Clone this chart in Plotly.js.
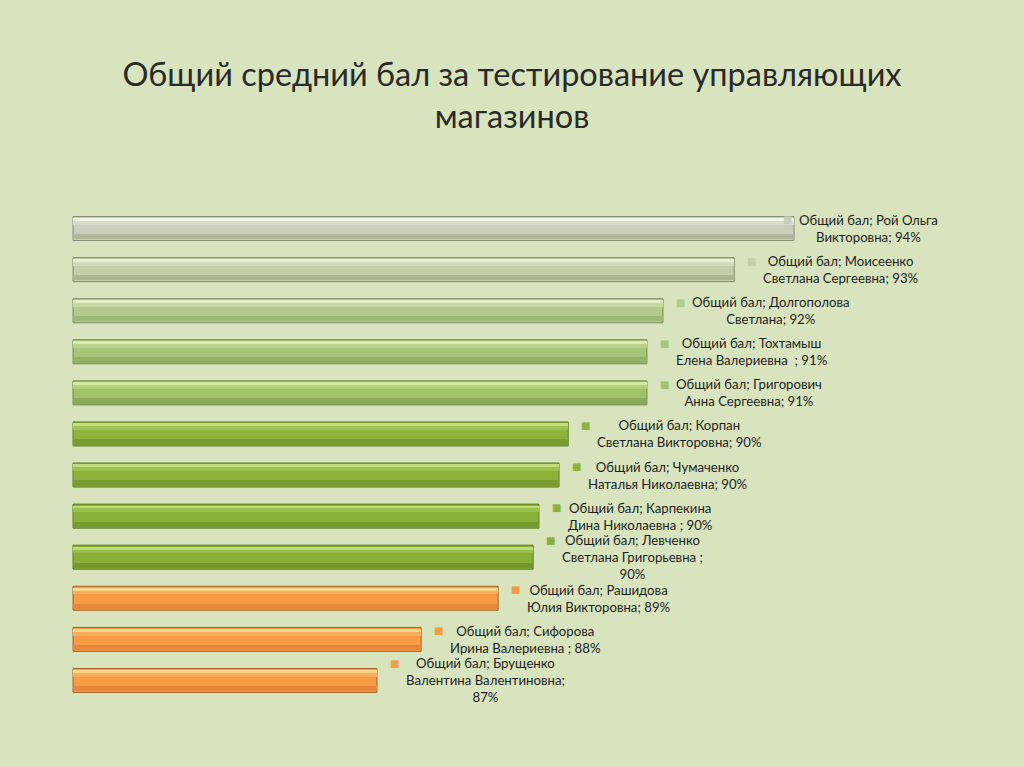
<!DOCTYPE html>
<html>
<head>
<meta charset="utf-8">
<script src="https://cdn.plot.ly/plotly-3.0.1.min.js"></script>
<style>html,body{margin:0;padding:0;background:#d7e4bd;}#chart{width:1024px;height:767px;}</style>
</head>
<body>
<div id="chart"></div>
<script>
// ---- data ----
var seriesName = "Общий бал";
var persons = [
  "Рой Ольга|Викторовна",
  "Моисеенко|Светлана Сергеевна",
  "Долгополова|Светлана",
  "Тохтамыш|Елена Валериевна  ",
  "Григорович|Анна Сергеевна",
  "Корпан|Светлана Викторовна",
  "Чумаченко|Наталья Николаевна",
  "Карпекина|Дина Николаевна ",
  "Левченко|Светлана Григорьевна ;|",
  "Рашидова|Юлия Викторовна",
  "Сифорова|Ирина Валериевна ",
  "Брущенко|Валентина Валентиновна;|"
];
var scores = [0.9405, 0.9301, 0.9177, 0.9149, 0.9149, 0.9012, 0.8996, 0.8961, 0.8951, 0.8890, 0.8756, 0.8679];
var pctLabels = ["94%", "93%", "92%", "91%", "91%", "90%", "90%", "90%", "90%", "89%", "88%", "87%"];

// ---- styles ----
var bodyColors = ['#c8cfba','#c2cfa8','#b4ca8d','#a8c479','#a1c266','#8eb43d','#8cb23a','#8ab138','#88af36','#f89b45','#f89b45','#f89b45'];
var topColors  = ['#eef2e4','#e9f0d7','#e3eec6','#daebb2','#d4e9a2','#c4df82','#c1dd7e','#bfdb7b','#bdd979','#fdd489','#fdd489','#fdd489'];
var midColors  = ['#d6dccb','#d2dcba','#c5d8a0','#b9d38c','#b3d17b','#9fc250','#9dc04d','#9bbf4b','#99bd49','#fbac5a','#fbac5a','#fbac5a'];
var botColors  = ['#b0b99e','#aab891','#9fb679','#93b066','#8caa59','#7a9d33','#789b30','#76992e','#74972c','#e6873a','#e6873a','#e6873a'];
var lineColors = ['#858d77','#818e6d','#798f5a','#728c4d','#6c8a42','#5d7e24','#5c7d23','#5b7c22','#5a7b21','#a4642a','#a4642a','#a4642a'];

var cats = persons.map(function(p){ return p.split('|')[0]; });
var base = 0.815;
var bw = 0.585;

function mk(offset, width, colors, line) {
  return {
    type: 'bar', orientation: 'h',
    x: scores.map(function(v){ return v - base; }),
    y: cats, base: base,
    width: width, offset: offset,
    marker: {color: colors, line: line ? {color: lineColors, width: 1} : {width: 0}},
    hoverinfo: 'none', showlegend: false
  };
}

var traces = [
  mk(-bw/2, bw, bodyColors, true),
  mk(-bw/2 + 0.07, 0.13, midColors, false),
  mk(-bw/2 + 0.035, 0.07, topColors, false),
  mk(bw/2 - 0.16, 0.13, botColors, false)
];

var annotations = [];
persons.forEach(function(p, i) {
  var parts = p.split('|');
  var first = seriesName + '; ' + parts[0];
  var rest = parts.slice(1);
  var text;
  if (rest.length === 2) {
    text = first + '<br>' + rest[0] + '<br>' + pctLabels[i];
  } else {
    text = first + '<br>' + rest[0] + '; ' + pctLabels[i];
  }
  var nLines = text.split('<br>').length;
  var shift = (i === 0) ? -24 : 0;
  annotations.push({
    x: scores[i], y: cats[i], xref: 'x', yref: 'y',
    text: text, showarrow: false, xanchor: 'left', yanchor: 'middle',
    align: 'center', xshift: 28 + shift, borderpad: 0,
    font: {family: 'Lato, "Open Sans", sans-serif', size: 13.2, color: '#1f1f1f'}
  });
  annotations.push({
    x: scores[i], y: cats[i], xref: 'x', yref: 'y',
    text: '■', showarrow: false, xanchor: 'left', yanchor: 'middle',
    xshift: 12 + shift, yshift: (nLines - 1) * 8.6, borderpad: 0,
    font: {family: 'DejaVu Sans, sans-serif', size: 10, color: bodyColors[i]}
  });
});

var layout = {
  width: 1024, height: 767,
  paper_bgcolor: '#d7e4bd', plot_bgcolor: '#d7e4bd',
  margin: {l: 70, r: 24, t: 208, b: 66},
  barmode: 'overlay', bargap: 0,
  title: {
    text: 'Общий средний бал за тестирование управляющих<br>магазинов',
    font: {family: 'Lato, "Open Sans", sans-serif', size: 32.5, color: '#2a2a2a'},
    x: 0.5, xanchor: 'center', xref: 'container',
    y: 1 - 86/767, yanchor: 'middle', yref: 'container'
  },
  xaxis: {range: [0.814478, 0.976358], visible: false, fixedrange: true},
  yaxis: {type: 'category', range: [11.5, -0.5], visible: false, fixedrange: true},
  annotations: annotations,
  showlegend: false
};

Plotly.newPlot('chart', traces, layout, {displayModeBar: false, staticPlot: true});
</script>
</body>
</html>
